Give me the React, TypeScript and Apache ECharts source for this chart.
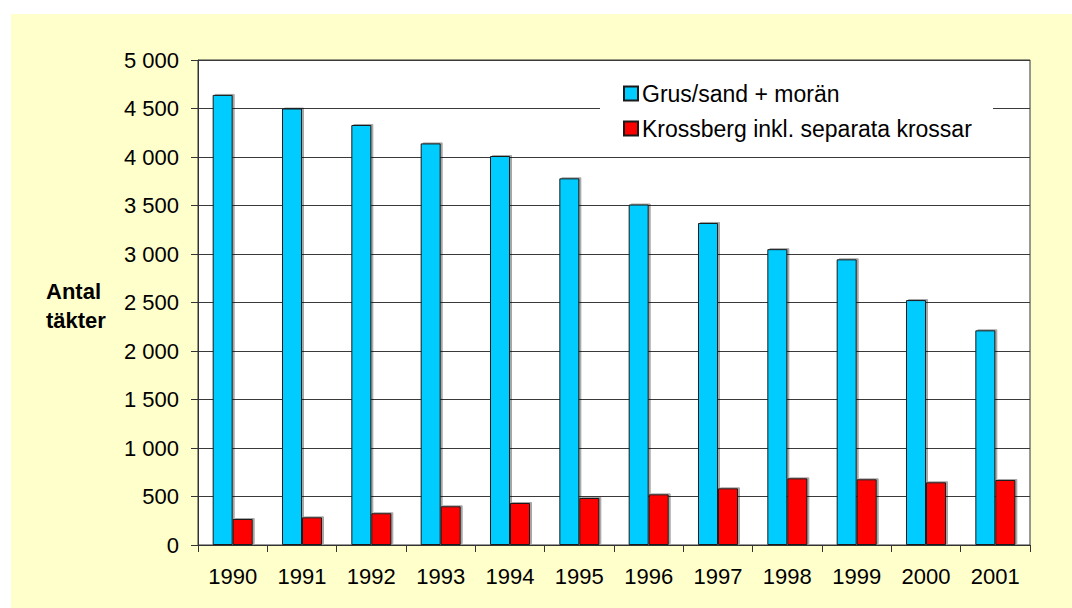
import React, { useEffect, useRef } from "react";
import * as echarts from "echarts";

const years = ["1990", "1991", "1992", "1993", "1994", "1995", "1996", "1997", "1998", "1999", "2000", "2001"];
const grusSand = [4640, 4500, 4330, 4140, 4010, 3780, 3510, 3320, 3050, 2945, 2525, 2213];
const krossberg = [268, 285, 327, 399, 433, 485, 522, 584, 687, 677, 646, 670];
const seriesNames = ["Grus/sand + morän", "Krossberg inkl. separata krossar"];
const yAxisTitle = "Antal\ntäkter";

const fmt = (v: number) => String(v).replace(/\B(?=(\d{3})+(?!\d))/g, " ");

export default function App() {
  const ref = useRef<HTMLDivElement>(null);
  useEffect(() => {
    if (!ref.current) return;
    const chart = echarts.init(ref.current, null, { renderer: "svg" });
    const font = "'Liberation Sans', Arial, sans-serif";
    chart.setOption({
      animation: false,
      backgroundColor: "#ffffff",
      textStyle: { fontFamily: font },
      graphic: [
        {
          type: "rect",
          z: -10,
          silent: true,
          shape: { x: 11, y: 14, width: 1072 - 11, height: 608 - 14 },
          style: { fill: "#FFFFCC" },
        },
        {
          type: "rect",
          z: 1,
          silent: true,
          shape: { x: 600, y: 61, width: 393, height: 88 },
          style: { fill: "#ffffff" },
        },
        {
          type: "text",
          z: 5,
          left: 46,
          top: 277,
          style: {
            text: yAxisTitle,
            font: `bold 22px ${font}`,
            lineHeight: 29,
            fill: "#000",
          },
        },
      ],
      grid: {
        left: 198,
        top: 60,
        width: 832,
        height: 485,
        show: true,
        backgroundColor: "#ffffff",
        borderColor: "#333",
        borderWidth: 1,
      },
      legend: {
        orient: "vertical",
        left: 623,
        top: 82,
        itemWidth: 14,
        itemHeight: 14,
        itemGap: 12,
        icon: "rect",
        padding: 0,
        textStyle: { fontSize: 23, color: "#000", lineHeight: 23, fontFamily: font, padding: [0, 0, 0, -1] },
        data: seriesNames,
      },
      xAxis: {
        type: "category",
        data: years,
        axisLine: { lineStyle: { color: "#333", width: 1 } },
        axisTick: { show: true, length: 7, alignWithLabel: false, lineStyle: { color: "#333" } },
        axisLabel: { fontSize: 22, color: "#000", margin: 20, fontFamily: font },
      },
      yAxis: {
        type: "value",
        min: 0,
        max: 5000,
        interval: 500,
        axisLine: { show: true, lineStyle: { color: "#333", width: 1 } },
        axisTick: { show: true, length: 7, lineStyle: { color: "#333" } },
        axisLabel: { fontSize: 22, color: "#000", margin: 19, fontFamily: font, formatter: (v: number) => fmt(v) },
        splitLine: { show: true, lineStyle: { color: "#3a3a3a", width: 1 } },
      },
      series: [
        {
          name: seriesNames[0],
          type: "bar",
          data: grusSand,
          barWidth: 20,
          barGap: "0%",
          itemStyle: {
            color: "#00CCFF",
            borderColor: "#1a1a1a",
            borderWidth: 1,
            shadowColor: "rgba(0,0,0,0.35)",
            shadowOffsetX: 2,
            shadowOffsetY: -1,
            shadowBlur: 0,
          },
        },
        {
          name: seriesNames[1],
          type: "bar",
          data: krossberg,
          barWidth: 20,
          barGap: "0%",
          itemStyle: {
            color: "#FF0000",
            borderColor: "#1a1a1a",
            borderWidth: 1,
            shadowColor: "rgba(0,0,0,0.35)",
            shadowOffsetX: 2,
            shadowOffsetY: -1,
            shadowBlur: 0,
          },
        },
      ],
    });
    return () => chart.dispose();
  }, []);
  return (
    <div
      ref={ref}
      style={{ position: "fixed", left: 0, top: 0, width: 1072, height: 608 }}
    />
  );
}
